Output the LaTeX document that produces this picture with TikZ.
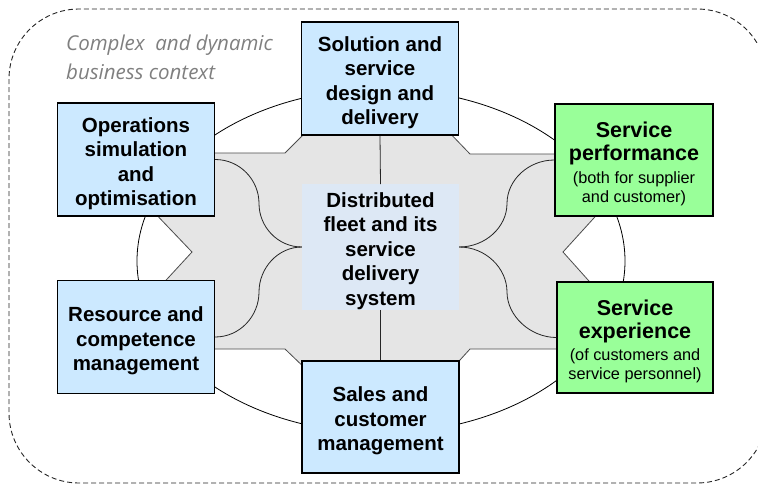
\documentclass[tikz,border=0pt]{standalone}
\usepackage{fontspec}
\setmainfont{Liberation Sans}
\newfontfamily\ctxfont{Open Sans}
\definecolor{boxblue}{HTML}{CCE9FF}
\definecolor{boxgreen}{HTML}{99FF99}
\definecolor{hubblue}{HTML}{DDE8F5}
\definecolor{hubgray}{HTML}{E5E5E5}
\definecolor{ctxgray}{HTML}{7F7F7F}
\newcommand{\boxfont}{\bfseries\fontsize{20.5}{24.5}\selectfont}
\newcommand{\greenfont}{\bfseries\fontsize{21.5}{23.5}\selectfont}
\newcommand{\notefont}{\mdseries\fontsize{16.3}{19}\selectfont}
\newcommand{\lift}{\rule{0pt}{23pt}}
\tikzset{
  bluebox/.style={draw, line width=1.3pt, fill=boxblue, minimum width=157pt,
    minimum height=113pt, inner sep=0pt, align=center, font=\boxfont},
  greenbox/.style={bluebox, fill=boxgreen, font=\greenfont},
  hubbox/.style={fill=hubblue, minimum width=157pt, minimum height=122pt,
    inner sep=0pt, align=center, font=\boxfont},
  link/.style={line width=0.8pt, black!85},
}
\begin{document}
\begin{tikzpicture}[x=1pt, y=-1pt]
  \clip (0,0) rectangle (758,485);
  % Business context
  \draw[dash pattern=on 5pt off 3pt, line width=0.9pt, black!85,
        rounded corners=70pt] (9,9) rectangle (767,483);
  \node[anchor=north west, inner sep=0pt, align=left, text=ctxgray,
        font=\ctxfont\itshape\fontsize{20.5}{28.5}\selectfont] (ctx) at (66,35)
        {Complex\ \ and dynamic\\business context};
  % Ellipse and grey hub
  \draw[line width=0.8pt, fill=white] (381,261) ellipse [x radius=244, y radius=172];
  \draw[line width=0.8pt, draw=black!70, fill=hubgray]
    (310,128) -- (285,153) -- (200,153) -- (150,208) -- (192,252) -- (157,290)
    -- (200,349) -- (285,349) -- (310,373) -- (450,371) -- (470,349) -- (570,349)
    -- (597,290) -- (563,252) -- (603,208) -- (570,154) -- (470,154) -- (445,128)
    -- cycle;
  % Boxes
  \node[hubbox] (hub) at (380.5,247)
    {\lift Distributed\\fleet and its\\service\\delivery\\system};
  \node[bluebox] (sol) at (380,78.5) {\lift Solution and\\service\\design and\\delivery};
  \node[bluebox] (ops) at (136,159.5) {\lift Operations\\simulation\\and\\optimisation};
  \node[bluebox] (res) at (136,337) {\lift Resource and\\competence\\management};
  \node[bluebox, minimum height=112pt] (sales) at (380.5,417)
    {\lift Sales and\\customer\\management};
  \node[greenbox, minimum width=158pt, minimum height=112pt] (perf) at (634,160)
    {\lift Service\\performance\\[-0.5pt]\notefont (both for supplier\\[-4.5pt]\notefont and customer)};
  \node[greenbox, minimum width=156pt, minimum height=111pt] (exp) at (635,337.5)
    {\lift Service\\experience\\[-2pt]\notefont (of customers and\\[-4.5pt]\notefont service personnel)};
  % Links
  \draw[link] (sol.south) -- (hub.north);
  \draw[link] (hub.south) -- (sales.north);
  \draw[link] (ops.east) .. controls (240,159.5) and (259,180) .. (259,203.5)
    .. controls (259,227) and (278,247) .. (hub.west);
  \draw[link] (hub.west) .. controls (278,247) and (259,268) .. (259,292)
    .. controls (259,316) and (240,337) .. (res.east);
  \draw[link] (perf.west) .. controls (528.5,160) and (507,180) .. (507,203.5)
    .. controls (507,227) and (485.5,247) .. (hub.east);
  \draw[link] (hub.east) .. controls (485.5,247) and (507,268) .. (507,292)
    .. controls (507,316) and (530.5,337.5) .. (exp.west);
\end{tikzpicture}
\end{document}
